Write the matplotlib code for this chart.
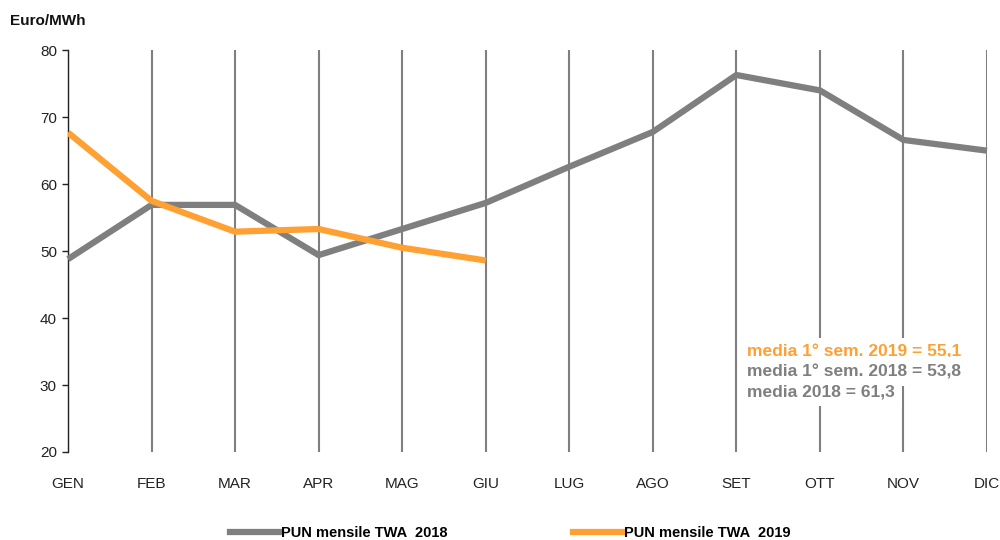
import numpy as np
import matplotlib
matplotlib.use("Agg")
import matplotlib.pyplot as plt
from matplotlib.lines import Line2D

plt.rcParams['font.family'] = ['Liberation Sans', 'DejaVu Sans']

## Dati PUN mensile (Euro/MWh)
mesi = ["GEN", "FEB", "MAR", "APR", "MAG", "GIU",
        "LUG", "AGO", "SET", "OTT", "NOV", "DIC"]
pun2018 = [48.8, 56.9, 56.9, 49.4, 53.3, 57.2, 62.6, 67.8, 76.3, 74.0, 66.6, 65.0]
pun2019 = [67.7, 57.5, 52.9, 53.3, 50.5, 48.6]
medie = ["media 1° sem. 2019 = 55,1",
         "media 1° sem. 2018 = 53,8",
         "media 2018 = 61,3"]

GRIGIO = "#7f7f7f"
ARANCIO = "#ffa033"

fig = plt.figure(figsize=(10, 5.4), dpi=100)
ax = fig.add_axes([0.068, 0.163, 0.919, 0.744])

x = np.arange(len(mesi))
ax.plot(x, pun2018, color=GRIGIO, lw=4.5, solid_capstyle='butt', zorder=3, clip_on=False)
ax.plot(x[:len(pun2019)], pun2019, color=ARANCIO, lw=4.5, solid_capstyle='butt', zorder=4)

ax.set_xlim(0, len(mesi) - 1)
ax.set_ylim(20, 80)
ax.set_yticks(np.arange(20, 81, 10))
ax.set_xticks(x)
ax.set_xticklabels(mesi)
ax.grid(axis='x', color=GRIGIO, lw=1.5, zorder=1)

for s in ["top", "right", "bottom"]:
    ax.spines[s].set_visible(False)
ax.spines["left"].set_color("#222222")
ax.spines["left"].set_linewidth(1.0)
ax.tick_params(axis='y', length=4, width=1.0, color="#222222", labelsize=11, pad=4, labelcolor="#222222")
ax.tick_params(axis='x', length=0, labelsize=11, pad=18, labelcolor="#222222")

fig.text(0.01, 0.962, "Euro/MWh", fontsize=11, fontweight='bold', color="#111111", va='center')

# riquadro con le medie
colori = [ARANCIO, GRIGIO, GRIGIO]
for i, (t, c) in enumerate(zip(medie, colori)):
    ax.text(8.13, 34.9 - 2.95 * i, t, color=c, fontsize=12.5, fontweight='bold',
            va='center', ha='left', zorder=5,
            bbox=dict(facecolor='white', edgecolor='none', pad=5))

handles = [Line2D([], [], color=GRIGIO, lw=4.5),
           Line2D([], [], color=ARANCIO, lw=4.5)]
fig.legend(handles, ["PUN mensile TWA  2018", "PUN mensile TWA  2019"],
           loc='center', bbox_to_anchor=(0.5105, 0.013), ncol=2, frameon=False,
           handlelength=3.35, handletextpad=0.15, columnspacing=8.6,
           prop=dict(size=10.5, weight='bold'))

fig.savefig("out.png", dpi=100)
